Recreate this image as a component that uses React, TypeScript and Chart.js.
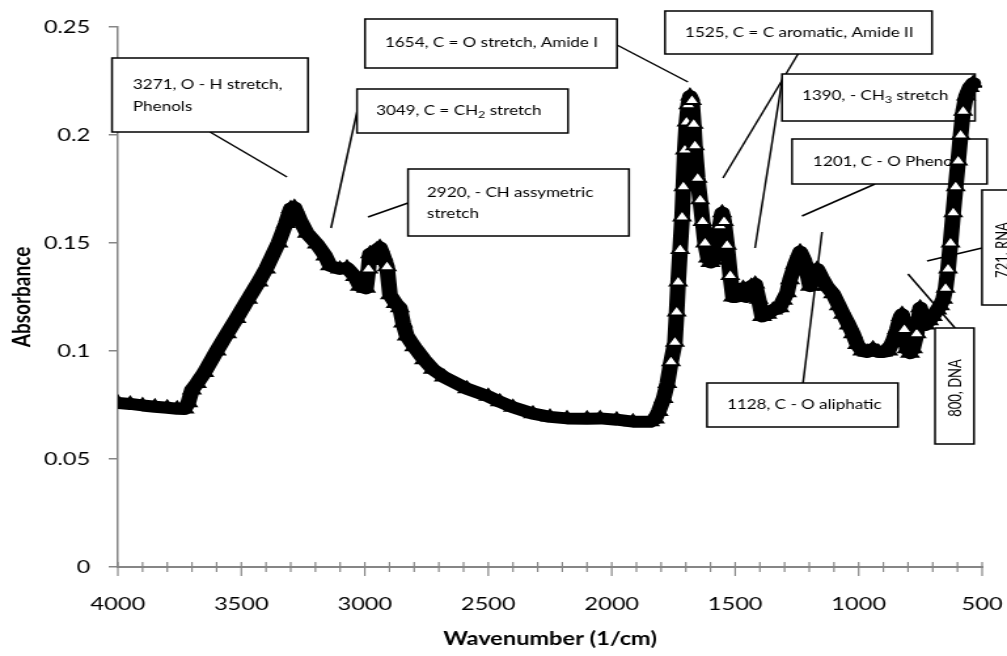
import React, { useEffect, useRef } from 'react';
import { Chart, registerables } from 'chart.js';
Chart.register(...registerables);

// canvas is drawn narrower and stretched horizontally (reference looks stretched)
const W = 769;
const H = 656;
const S = 1007 / W;

const wavenumbers = [
  4000, 3950, 3900, 3850, 3800, 3760, 3730, 3715, 3700, 3680, 3650, 3600, 3558, 3520, 3473, 3430, 3400, 3350, 3320, 3300,
  3285, 3260, 3234, 3194, 3160, 3141, 3101, 3072, 3040, 3020, 2995, 2985, 2979, 2967, 2950, 2939, 2925, 2910, 2898, 2875,
  2858, 2845, 2830, 2800, 2760, 2724, 2680, 2586, 2500, 2453, 2400, 2319, 2250, 2181, 2100, 2047, 1980, 1914, 1845, 1825,
  1810, 1790, 1775, 1760, 1744, 1737, 1731, 1723, 1715, 1710, 1704, 1697, 1690, 1683, 1675, 1668, 1663, 1652, 1642, 1632,
  1622, 1610, 1600, 1590, 1575, 1562, 1553, 1545, 1533, 1520, 1509, 1495, 1480, 1468, 1455, 1448, 1435, 1419, 1405, 1391,
  1370, 1347, 1320, 1306, 1290, 1278, 1258, 1237, 1220, 1197, 1185, 1168, 1150, 1130, 1104, 1080, 1063, 1040, 1023, 1006,
  985, 966, 942, 920, 901, 880, 860, 845, 830, 824, 815, 805, 792, 780, 765, 751, 740, 731, 715, 700,
  682, 670, 658, 648, 638, 628, 617, 607, 597, 587, 577, 565, 550, 536,
];
const absorbance = [
  0.076, 0.0755, 0.0748, 0.0742, 0.0737, 0.0733, 0.0732, 0.076, 0.082, 0.085, 0.09, 0.1, 0.108, 0.115, 0.124, 0.132, 0.138, 0.15, 0.159, 0.166,
  0.1665, 0.16, 0.1545, 0.1495, 0.144, 0.1395, 0.138, 0.1385, 0.1345, 0.13, 0.129, 0.138, 0.145, 0.142, 0.147, 0.148, 0.144, 0.139, 0.126, 0.122,
  0.12, 0.113, 0.107, 0.102, 0.096, 0.0915, 0.088, 0.0825, 0.079, 0.0765, 0.074, 0.071, 0.0695, 0.0688, 0.0686, 0.0688, 0.0682, 0.0673, 0.0672, 0.0685,
  0.072, 0.078, 0.085, 0.095, 0.104, 0.118, 0.132, 0.147, 0.162, 0.176, 0.193, 0.206, 0.214, 0.218, 0.216, 0.205, 0.195, 0.18, 0.17, 0.16,
  0.15, 0.143, 0.141, 0.142, 0.148, 0.158, 0.164, 0.16, 0.149, 0.135, 0.125, 0.125, 0.127, 0.129, 0.125, 0.127, 0.13, 0.131, 0.124, 0.116,
  0.117, 0.119, 0.12, 0.1235, 0.127, 0.133, 0.14, 0.146, 0.142, 0.13, 0.133, 0.138, 0.134, 0.13, 0.1265, 0.121, 0.117, 0.112, 0.108, 0.103,
  0.1, 0.0995, 0.101, 0.0995, 0.0995, 0.1, 0.105, 0.11, 0.116, 0.117, 0.11, 0.101, 0.099, 0.101, 0.108, 0.12, 0.115, 0.112, 0.114, 0.116,
  0.119, 0.121, 0.124, 0.129, 0.138, 0.15, 0.164, 0.176, 0.188, 0.2, 0.211, 0.218, 0.222, 0.224,
];

const xTickValues = [4000, 3500, 3000, 2500, 2000, 1500, 1000, 500];
const xTickLabels = ['4000', '3500', '3000', '2500', '2000', '1500', '1000', '500'];
const yTickValues = [0, 0.05, 0.1, 0.15, 0.2, 0.25];
const yTickLabels = ['0', '0.05', '0.1', '0.15', '0.2', '0.25'];

const xTitle = 'Wavenumber (1/cm)';
const yTitle = 'Absorbance';

type Seg = { t: string; sub?: boolean };
type Note = {
  box: [number, number, number, number];
  lines?: Seg[][];
  tx?: number;
  ty?: number[];
  rot?: { t: string; cx: number; cy: number };
  leader: [number, number, number, number];
};

// annotation layout, in reference pixel coordinates
const notes: Note[] = [
  { box: [112, 58, 196, 74], lines: [[{ t: '3271, O - H stretch,' }], [{ t: 'Phenols' }]], tx: 133, ty: [85, 107], leader: [210, 132, 287, 177] },
  { box: [357, 89, 211, 44], lines: [[{ t: '3049, C = CH' }, { t: '2', sub: true }, { t: ' stretch' }]], tx: 376, ty: [111], leader: [357, 112, 331, 228] },
  { box: [408, 169, 221, 67], lines: [[{ t: '2920, - CH assymetric' }], [{ t: 'stretch' }]], tx: 427, ty: [193, 214], leader: [408, 203, 368, 217] },
  { box: [365, 19, 252, 49], lines: [[{ t: '1654, C = O stretch, Amide I' }]], tx: 385, ty: [43], leader: [617, 45, 688, 82] },
  { box: [665, 11, 267, 43], lines: [[{ t: '1525, C = C aromatic, Amide II' }]], tx: 685, ty: [33], leader: [798, 54, 723, 178] },
  { box: [782, 74, 193, 47], lines: [[{ t: '1390, - CH' }, { t: '3', sub: true }, { t: ' stretch' }]], tx: 802, ty: [96], leader: [783, 75, 755, 248] },
  { box: [792, 139, 195, 45], lines: [[{ t: '1201, C - O Phenols' }]], tx: 813, ty: [162], leader: [875, 184, 802, 216] },
  { box: [707, 383, 191, 44], lines: [[{ t: '1128, C - O aliphatic' }]], tx: 727, ty: [405], leader: [803, 383, 822, 232] },
  { box: [935, 328, 39, 116], rot: { t: '800, DNA', cx: 956, cy: 388 }, leader: [955, 328, 908, 274] },
  { box: [982, 190, 40, 115], rot: { t: '721, RNA', cx: 1003, cy: 250 }, leader: [982, 248, 927, 261] },
];

const FONT = 'Lato, "Open Sans", sans-serif';
const NOTE_FONT = `13px ${FONT}`;
const SUB_FONT = `9.5px ${FONT}`;

const annotationPlugin = {
  id: 'notes',
  beforeDatasetsDraw(chart: any) {
    const ctx = chart.ctx as CanvasRenderingContext2D;
    ctx.save();
    ctx.lineWidth = 1.5;
    ctx.strokeStyle = '#000';
    ctx.fillStyle = '#000';
    for (const n of notes) {
      ctx.beginPath();
      ctx.moveTo(n.leader[0] / S, n.leader[1]);
      ctx.lineTo(n.leader[2] / S, n.leader[3]);
      ctx.stroke();
    }
    for (const n of notes) {
      const [bx, by, bw, bh] = n.box;
      ctx.fillStyle = '#fff';
      ctx.fillRect(bx / S, by, bw / S, bh);
      ctx.strokeRect(bx / S, by, bw / S, bh);
      ctx.fillStyle = '#000';
      ctx.textBaseline = 'middle';
      if (n.lines && n.ty && n.tx !== undefined) {
        n.lines.forEach((segs, li) => {
          let x = n.tx! / S;
          const y = n.ty![li];
          ctx.textAlign = 'left';
          for (const s of segs) {
            ctx.font = s.sub ? SUB_FONT : NOTE_FONT;
            ctx.fillText(s.t, x, y + (s.sub ? 4 : 0));
            x += ctx.measureText(s.t).width;
          }
        });
      }
      if (n.rot) {
        ctx.save();
        ctx.translate(n.rot.cx / S, n.rot.cy);
        ctx.rotate(-Math.PI / 2);
        ctx.font = NOTE_FONT;
        ctx.textAlign = 'center';
        ctx.fillText(n.rot.t, 0, 0);
        ctx.restore();
      }
    }
    ctx.restore();
  },
  afterDraw(chart: any) {
    const ctx = chart.ctx as CanvasRenderingContext2D;
    const xs = chart.scales.x;
    const area = chart.chartArea;
    ctx.save();
    // x axis tick marks (minor every 100, major every 500)
    ctx.strokeStyle = '#868686';
    ctx.lineWidth = 1.2;
    for (let v = 4000; v >= 500; v -= 100) {
      const p = xs.getPixelForValue(v);
      const major = v % 500 === 0;
      ctx.beginPath();
      ctx.moveTo(p, area.bottom - 5);
      ctx.lineTo(p, area.bottom + (major ? 9 : 5));
      ctx.stroke();
    }
    // axis titles
    ctx.fillStyle = '#000';
    ctx.font = `bold 18px ${FONT}`;
    ctx.textAlign = 'center';
    ctx.textBaseline = 'middle';
    ctx.fillText(xTitle, (area.left + area.right) / 2, 639);
    ctx.translate(22 / S, (area.top + area.bottom) / 2);
    ctx.rotate(-Math.PI / 2);
    ctx.font = `bold 19px ${FONT}`;
    ctx.fillText(yTitle, 0, 0);
    ctx.restore();
  },
};

export default function App() {
  const ref = useRef<HTMLCanvasElement | null>(null);
  useEffect(() => {
    document.body.style.margin = '0';
    const canvas = ref.current!;
    const n = wavenumbers.length;
    const chart = new Chart(canvas, {
      type: 'scatter',
      data: {
        datasets: [
          {
            data: wavenumbers.map((w, i) => ({ x: w, y: absorbance[i] })),
            showLine: true,
            borderColor: '#000',
            borderWidth: 12,
            borderJoinStyle: 'round',
            borderCapStyle: 'round',
            pointStyle: 'triangle',
            pointRadius: 7,
            pointBorderWidth: 2,
            pointBorderColor: '#000',
            pointBackgroundColor: (c: any) => {
              const i = c.dataIndex;
              const xs = c.chart.scales.x;
              const ys = c.chart.scales.y;
              if (!xs || !ys || i === undefined) return '#000';
              const a = Math.max(0, i - 1);
              const b = Math.min(n - 1, i + 1);
              const dx = Math.abs(xs.getPixelForValue(wavenumbers[b]) - xs.getPixelForValue(wavenumbers[a])) * S;
              const dy = Math.abs(ys.getPixelForValue(absorbance[b]) - ys.getPixelForValue(absorbance[a]));
              return dy > 5 * dx ? '#fff' : '#000';
            },
            tension: 0,
          } as any,
        ],
      },
      options: {
        animation: false,
        responsive: false,
        maintainAspectRatio: false,
        devicePixelRatio: 1,
        layout: { padding: { top: 27, right: W - 750, left: 0, bottom: 0 } },
        plugins: { legend: { display: false }, tooltip: { enabled: false } },
        scales: {
          x: {
            type: 'linear',
            reverse: true,
            min: 500,
            max: 4000,
            afterFit: (s: any) => {
              s.height = H - 567;
              s.paddingLeft = 0;
              s.paddingRight = 0;
            },
            afterBuildTicks: (s: any) => {
              s.ticks = xTickValues.map((v) => ({ value: v }));
            },
            grid: { display: false },
            border: { display: true, color: '#868686', width: 2 },
            ticks: {
              autoSkip: false,
              maxRotation: 0,
              padding: 18,
              color: '#000',
              font: { family: FONT, size: 18 },
              callback: (v: any) => {
                const k = xTickValues.indexOf(Number(v));
                return k >= 0 ? xTickLabels[k] : '';
              },
            },
          },
          y: {
            type: 'linear',
            min: 0,
            max: 0.25,
            afterFit: (s: any) => {
              s.width = 90;
              s.paddingTop = 0;
              s.paddingBottom = 0;
            },
            afterBuildTicks: (s: any) => {
              s.ticks = yTickValues.map((v) => ({ value: v }));
            },
            grid: { display: true, drawOnChartArea: false, drawTicks: true, tickLength: 7, color: '#868686', lineWidth: 1.5 },
            border: { display: true, color: '#868686', width: 1.5 },
            ticks: {
              padding: 14,
              color: '#000',
              font: { family: FONT, size: 18 },
              callback: (v: any) => {
                const k = yTickValues.findIndex((t) => Math.abs(t - Number(v)) < 1e-9);
                return k >= 0 ? yTickLabels[k] : '';
              },
            },
          },
        },
      },
      plugins: [annotationPlugin],
    } as any);
    return () => chart.destroy();
  }, []);

  return (
    <div style={{ position: 'absolute', left: 0, top: 0, width: 1007, height: 656, background: '#fff' }}>
      <canvas ref={ref} width={W} height={H} style={{ width: '1007px', height: '656px', display: 'block' }} />
    </div>
  );
}
